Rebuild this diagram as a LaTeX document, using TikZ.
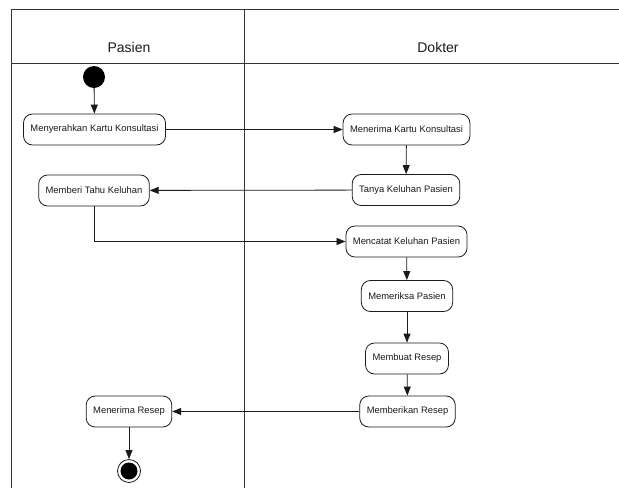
\documentclass[tikz,border=0pt]{standalone}
\usepackage{fontspec}
\setmainfont{Liberation Sans}
\usepackage{tikz}
\usepackage{xcolor}
\usetikzlibrary{arrows.meta}
\definecolor{lane}{HTML}{333333}
\definecolor{ink}{HTML}{1A1A1A}

\begin{document}
\begin{tikzpicture}[
  x=1pt, y=-1pt,
  act/.style={draw=ink, rounded corners=9pt, line width=0.8pt, align=center, inner xsep=7pt,
    minimum height=31pt, font=\fontsize{9.4}{11}\selectfont, text=ink},
  lanehead/.style={font=\fontsize{14}{16}\selectfont, text=ink},
  arrow/.style={-{Triangle[length=9pt,width=7pt]}, line width=0.8pt, draw=ink}
]
\useasboundingbox (0,0) rectangle (619,488);
% swimlanes
\draw[lane, line width=1pt] (619,9) -- (11,9) -- (11,488);
\draw[lane, line width=1pt] (11,63) -- (619,63);
\draw[lane, line width=1pt] (244,9) -- (244,488);
\node[lanehead] (pasien) at (129,47) {Pasien};
\node[lanehead] (dokter) at (438,47) {Dokter};

% start / end
\node[circle, fill=black, minimum size=22pt, inner sep=0pt] (start) at (94,77) {};
\node[circle, draw=ink, line width=0.8pt, minimum size=23pt, inner sep=0pt] (end) at (129,471) {};
\node[circle, fill=black, minimum size=17pt, inner sep=0pt] (endfill) at (end) {};

% activities
\node[act] (serah) at (94.5,129.5) {Menyerahkan Kartu Konsultasi};
\node[act] (terima) at (406.5,129.5) {Menerima Kartu Konsultasi};
\node[act] (tanya) at (406,190) {Tanya Keluhan Pasien};
\node[act] (beritahu) at (94,190.5) {Memberi Tahu Keluhan};
\node[act] (catat) at (406.5,241.5) {Mencatat Keluhan Pasien};
\node[act] (periksa) at (407,296) {Memeriksa Pasien};
\node[act] (buat) at (407,358.5) {Membuat Resep};
\node[act] (berikan) at (407.5,411.5) {Memberikan Resep};
\node[act] (resep) at (129,411.5) {Menerima Resep};

% flow
\draw[arrow] (start) -- (serah);
\draw[arrow] (serah) -- (terima);
\draw[arrow] (terima) -- (tanya);
\draw[arrow] (tanya) -- (beritahu);
\draw[arrow] (beritahu.south) |- (catat.west);
\draw[arrow] (catat) -- (periksa);
\draw[arrow] (periksa) -- (buat);
\draw[arrow] (buat) -- (berikan);
\draw[arrow] (berikan) -- (resep);
\draw[arrow] (resep) -- (end);
\end{tikzpicture}
\end{document}
